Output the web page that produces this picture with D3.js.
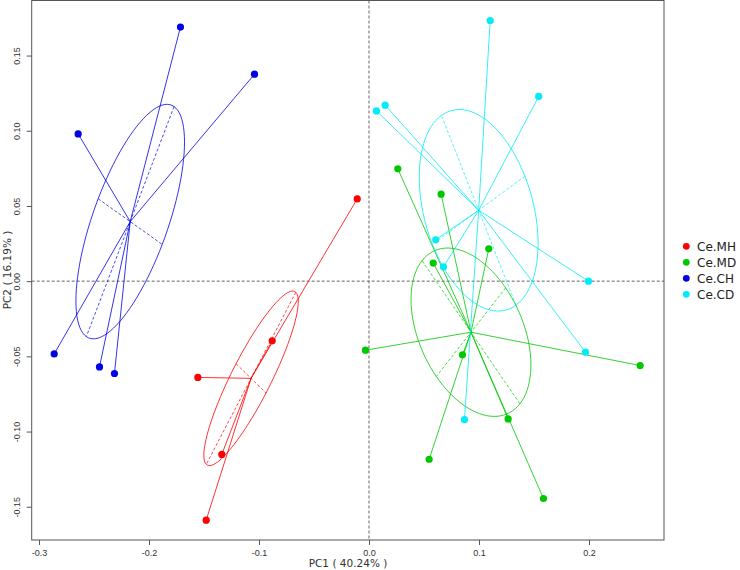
<!DOCTYPE html>
<html>
<head>
<meta charset="utf-8">
<script src="https://cdn.jsdelivr.net/npm/d3@7"></script>
<style>
  body { margin: 0; background: #fff; }
  svg { display: block; font-family: "DejaVu Sans", sans-serif; }
</style>
</head>
<body>
<svg id="chart" width="740" height="570"></svg>
<script>
// ---- data ----
const groups = ["Ce.MH", "Ce.MD", "Ce.CH", "Ce.CD"];
const groupColors = ["#ff0000", "#00c800", "#0000e6", "#00ecf6"];
const MH_pc1 = [-0.0107, -0.0880, -0.1556, -0.1338, -0.1480];
const MH_pc2 = [0.0547, -0.0397, -0.0640, -0.1152, -0.1589];
const MD_pc1 = [0.0262, 0.0656, 0.1089, 0.0584, -0.0032, 0.0850, 0.1265, 0.0547, 0.1586, 0.2465];
const MD_pc2 = [0.0747, 0.0578, 0.0215, 0.0120, -0.0459, -0.0490, -0.0916, -0.1184, -0.1445, -0.0561];
const CH_pc1 = [-0.1714, -0.1041, -0.2644, -0.2862, -0.2450, -0.2314];
const CH_pc2 = [0.1689, 0.1376, 0.0979, -0.0484, -0.0570, -0.0614];
const CD_pc1 = [0.1102, 0.1543, 0.0147, 0.0068, 0.0607, 0.0677, 0.1995, 0.1968, 0.0868];
const CD_pc2 = [0.1733, 0.1228, 0.1170, 0.1132, 0.0275, 0.0095, 0.0000, -0.0472, -0.0920];
const xTicks = [-0.3, -0.2, -0.1, 0.0, 0.1, 0.2];
const yTicks = [-0.15, -0.10, -0.05, 0.00, 0.05, 0.10, 0.15];
const xTitle = "PC1 ( 40.24% )";
const yTitle = "PC2 ( 16.19% )";

const pc1 = [MH_pc1, MD_pc1, CH_pc1, CD_pc1];
const pc2 = [MH_pc2, MD_pc2, CH_pc2, CD_pc2];

// ---- layout ----
const L = 31.7, R = 664, T = 0.5, B = 540;
const x = d3.scaleLinear().domain([-0.30664, 0.2682]).range([L, R]);
const y = d3.scaleLinear().domain([-0.1721, 0.1866]).range([B, T]);
const ellipseCoeff = 0.8;

const svg = d3.select("#chart");

// zero lines
svg.append("line").attr("x1", L).attr("x2", R).attr("y1", y(0)).attr("y2", y(0))
  .attr("stroke", "#666").attr("stroke-dasharray", "3,2").attr("stroke-width", 1);
svg.append("line").attr("x1", x(0)).attr("x2", x(0)).attr("y1", T).attr("y2", B)
  .attr("stroke", "#666").attr("stroke-dasharray", "3,2").attr("stroke-width", 1);

// groups
const plot = svg.append("g");
groups.forEach((g, gi) => {
  const xs = pc1[gi], ys = pc2[gi];
  const col = groupColors[gi];
  const mx = d3.mean(xs), my = d3.mean(ys);
  const vx = d3.mean(xs, d => (d - mx) * (d - mx));
  const vy = d3.mean(ys, d => (d - my) * (d - my));
  const cxy = d3.mean(xs.map((d, i) => (d - mx) * (ys[i] - my)));
  const delta = Math.sqrt((vx - vy) * (vx - vy) + 4 * cxy * cxy);
  let l1 = (vx + vy + delta) / 2;
  let l2 = vx + vy - l1;
  l1 = Math.sqrt(Math.max(l1, 0));
  l2 = Math.sqrt(Math.max(l2, 0));
  let a0 = 1, b0 = (l1 * l1 - vx) / cxy;
  const nrm = Math.sqrt(a0 * a0 + b0 * b0);
  a0 /= nrm; b0 /= nrm;
  const c11 = ellipseCoeff * a0 * l1, c12 = -ellipseCoeff * b0 * l2;
  const c21 = ellipseCoeff * b0 * l1, c22 = ellipseCoeff * a0 * l2;
  const angles = d3.range(0, 2 * Math.PI + 1e-9, 2 * Math.PI / 100);
  const ell = angles.map(a => [mx + c11 * Math.cos(a) + c12 * Math.sin(a), my + c21 * Math.cos(a) + c22 * Math.sin(a)]);
  const grp = plot.append("g");
  grp.append("path")
    .attr("d", d3.line().x(d => x(d[0])).y(d => y(d[1]))(ell) + "Z")
    .attr("fill", "none").attr("stroke", col).attr("stroke-width", 0.8);
  // ellipse axes
  [[c11, c21], [c12, c22]].forEach(([dx, dy]) => {
    grp.append("line")
      .attr("x1", x(mx + dx)).attr("y1", y(my + dy))
      .attr("x2", x(mx - dx)).attr("y2", y(my - dy))
      .attr("stroke", col).attr("stroke-width", 0.7).attr("stroke-dasharray", "3,2");
  });
  // stars
  xs.forEach((d, i) => {
    grp.append("line")
      .attr("x1", x(mx)).attr("y1", y(my))
      .attr("x2", x(d)).attr("y2", y(ys[i]))
      .attr("stroke", col).attr("stroke-width", 0.8);
  });
  // points
  xs.forEach((d, i) => {
    grp.append("circle").attr("cx", x(d)).attr("cy", y(ys[i])).attr("r", 3.6).attr("fill", col);
  });
});

// frame
svg.append("rect").attr("x", L).attr("y", T).attr("width", R - L).attr("height", B - T)
  .attr("fill", "none").attr("stroke", "#555").attr("stroke-width", 1);

// x axis
const xAxis = d3.axisBottom(x).tickValues(xTicks).tickSize(5).tickSizeOuter(0);
const gx = svg.append("g").attr("transform", `translate(0,${B})`).call(xAxis);
gx.select(".domain").remove();
gx.selectAll("line").attr("stroke", "#555");
gx.selectAll("text").attr("fill", "#333").style("font-size", "9px").attr("dy", "0.9em")
  .text(d => d3.format(".1f")(d).replace("−", "-"));

// y axis
const yAxis = d3.axisLeft(y).tickValues(yTicks).tickSize(5).tickSizeOuter(0);
const gy = svg.append("g").attr("transform", `translate(${L},0)`).call(yAxis);
gy.select(".domain").remove();
gy.selectAll("line").attr("stroke", "#555");
gy.selectAll("text").remove();
gy.selectAll(".tick").append("text")
  .attr("transform", "translate(-12,0) rotate(-90)")
  .attr("text-anchor", "middle")
  .attr("fill", "#333").style("font-size", "9px")
  .text(d => d3.format(".2f")(d).replace("−", "-"));

// titles
svg.append("text").attr("x", 348).attr("y", 567).attr("text-anchor", "middle")
  .attr("fill", "#333").style("font-size", "10.5px").text(xTitle);
svg.append("text").attr("transform", `translate(11,270) rotate(-90)`).attr("text-anchor", "middle")
  .attr("fill", "#333").style("font-size", "10.5px").text(yTitle);

// legend
const leg = svg.append("g");
groups.forEach((g, i) => {
  const yy = 246.3 + i * 16;
  leg.append("circle").attr("cx", 686.3).attr("cy", yy).attr("r", 3.4).attr("fill", groupColors[i]);
  leg.append("text").attr("x", 697).attr("y", yy + 4.3).attr("fill", "#222")
    .style("font-size", "12px").text(g);
});
</script>
</body>
</html>
